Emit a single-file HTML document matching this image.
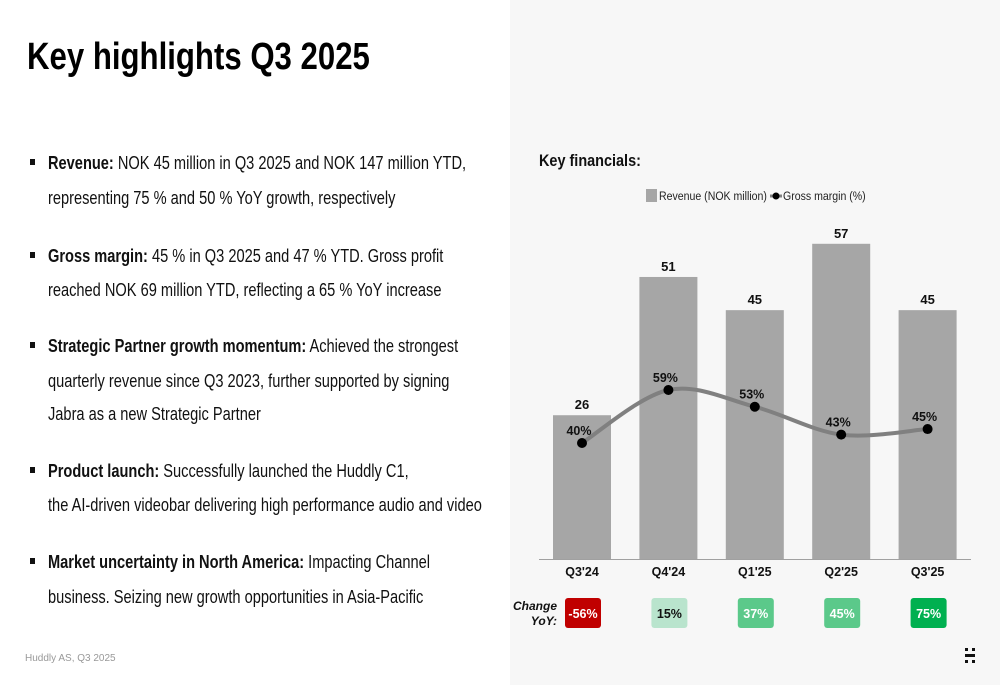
<!DOCTYPE html>
<html><head><meta charset="utf-8">
<style>
body{margin:0;width:1000px;height:685px;position:relative;background:#fff;font-family:"Liberation Sans",Arial,sans-serif;overflow:hidden}
.panel{position:absolute;left:510px;top:0;width:490px;height:685px;background:#f7f7f7}
.title{position:absolute;left:27px;top:36px;font-size:38px;font-weight:bold;transform:scaleX(0.82);transform-origin:left;white-space:nowrap;color:#000}
.ln{position:absolute;left:48px;font-size:18.5px;color:#111;white-space:nowrap;transform:scaleX(0.79);transform-origin:left;line-height:22px}
.bul{position:absolute;left:30px;width:5px;height:6px;background:#111}
.foot{position:absolute;left:25px;top:653px;font-size:10px;color:#999}
</style></head><body>
<div class="panel"></div>
<div class="title">Key highlights Q3 2025</div>

<div class="bul" style="top:159px"></div>
<div class="ln" style="top:152px"><b>Revenue:</b> NOK 45 million in Q3 2025 and NOK 147 million YTD,</div>
<div class="ln" style="top:187px">representing 75 % and 50 % YoY growth, respectively</div>
<div class="bul" style="top:252px"></div>
<div class="ln" style="top:245px"><b>Gross margin:</b> 45 % in Q3 2025 and 47 % YTD. Gross profit</div>
<div class="ln" style="top:279px">reached NOK 69 million YTD, reflecting a 65 % YoY increase</div>
<div class="bul" style="top:342px"></div>
<div class="ln" style="top:335px"><b>Strategic Partner growth momentum:</b> Achieved the strongest</div>
<div class="ln" style="top:370px">quarterly revenue since Q3 2023, further supported by signing</div>
<div class="ln" style="top:403px">Jabra as a new Strategic Partner</div>
<div class="bul" style="top:467px"></div>
<div class="ln" style="top:460px"><b>Product launch:</b> Successfully launched the Huddly C1,</div>
<div class="ln" style="top:494px">the AI-driven videobar delivering high performance audio and video</div>
<div class="bul" style="top:558px"></div>
<div class="ln" style="top:551px"><b>Market uncertainty in North America:</b> Impacting Channel</div>
<div class="ln" style="top:586px">business. Seizing new growth opportunities in Asia-Pacific</div>
<div class="foot">Huddly AS, Q3 2025</div>

<svg id="chart" width="1000" height="685" style="position:absolute;left:0;top:0" font-family="Liberation Sans, Arial, sans-serif">
<text x="539" y="166" font-size="17" font-weight="bold" fill="#111" transform="translate(539 0) scale(0.85 1) translate(-539 0)">Key financials:</text>
<rect x="646" y="189" width="11" height="13" fill="#a6a6a6"/>
<text x="659" y="200" font-size="12" fill="#222" transform="translate(659 0) scale(0.88 1) translate(-659 0)">Revenue (NOK million)</text>
<line x1="770" y1="196" x2="782" y2="196" stroke="#808080" stroke-width="3"/>
<circle cx="776" cy="196" r="3.5" fill="#000"/>
<text x="783" y="200" font-size="12" fill="#222" transform="translate(783 0) scale(0.88 1) translate(-783 0)">Gross margin (%)</text>
<line x1="539" y1="559.5" x2="971" y2="559.5" stroke="#a0a0a0" stroke-width="1"/>
<g id="g"></g>
<g>
<rect x="965" y="648" width="3" height="3" fill="#111"/><rect x="972" y="648" width="3" height="3" fill="#111"/>
<rect x="965" y="654" width="10" height="3" fill="#111"/>
<rect x="965" y="660" width="3" height="3" fill="#111"/><rect x="972" y="660" width="3" height="3" fill="#111"/>
</g>
</svg>
<script>
const categories=["Q3'24","Q4'24","Q1'25","Q2'25","Q3'25"];
const revenue=[26,51,45,57,45];
const margin=[40,59,53,43,45];
const yoy=["-56%","15%","37%","45%","75%"];
const yoyColors=["#c00000","#b9e4cd","#5bc98a","#5bc98a","#00b050"];
const yoyText=["#fff","#111","#fff","#fff","#fff"];
const NS="http://www.w3.org/2000/svg",g=document.getElementById('g');
const xC=i=>582+i*86.4, yR=v=>559-v*5.53, yM=v=>443-(v-40)*2.79;
function mk(t,a,txt){const e=document.createElementNS(NS,t);for(const k in a)e.setAttribute(k,a[k]);if(txt!=null)e.textContent=txt;g.appendChild(e);return e;}
revenue.forEach((v,i)=>{
 const b=mk('rect',{x:xC(i)-29,y:yR(v),width:58,height:559-yR(v),fill:'#a6a6a6'});
 
 
 const t=mk('text',{x:xC(i),y:yR(v)-6,'text-anchor':'middle','font-size':13,'font-weight':'bold',fill:'#111'},v);
 
 
 const c=mk('text',{x:xC(i),y:576,'text-anchor':'middle','font-size':12.5,'font-weight':'bold',fill:'#111'},categories[i]);
 
 
 const r=mk('rect',{x:xC(i)-17,y:598,width:36,height:30,rx:3,fill:yoyColors[i]});
 
 
 const rt=mk('text',{x:xC(i)+1,y:618,'text-anchor':'middle','font-size':12.5,'font-weight':'bold',fill:yoyText[i]},yoy[i]);
 
 
});
const pts=margin.map((v,i)=>[xC(i),yM(v)]);
let d=`M${pts[0][0]},${pts[0][1]}`;
for(let i=0;i<pts.length-1;i++){const p0=pts[i-1]||pts[i],p1=pts[i],p2=pts[i+1],p3=pts[i+2]||p2;
 d+=` C${p1[0]+(p2[0]-p0[0])/6},${p1[1]+(p2[1]-p0[1])/6} ${p2[0]-(p3[0]-p1[0])/6},${p2[1]-(p3[1]-p1[1])/6} ${p2[0]},${p2[1]}`;}
const ln=mk('path',{d:d,fill:'none',stroke:'#808080','stroke-width':4});


margin.forEach((v,i)=>{
 const c=mk('circle',{cx:xC(i),cy:yM(v),r:5,fill:'#000'});
 
 
 const t=mk('text',{x:xC(i)-3,y:yM(v)-8,'text-anchor':'middle','font-size':12.5,'font-weight':'bold',fill:'#111'},v+'%');
 
 
});
const l1=mk('text',{x:557,y:610,'text-anchor':'end','font-size':12,'font-weight':'bold','font-style':'italic',fill:'#111'},'Change');


const l2=mk('text',{x:557,y:625,'text-anchor':'end','font-size':12,'font-weight':'bold','font-style':'italic',fill:'#111'},'YoY:');


</script>
</body></html>
